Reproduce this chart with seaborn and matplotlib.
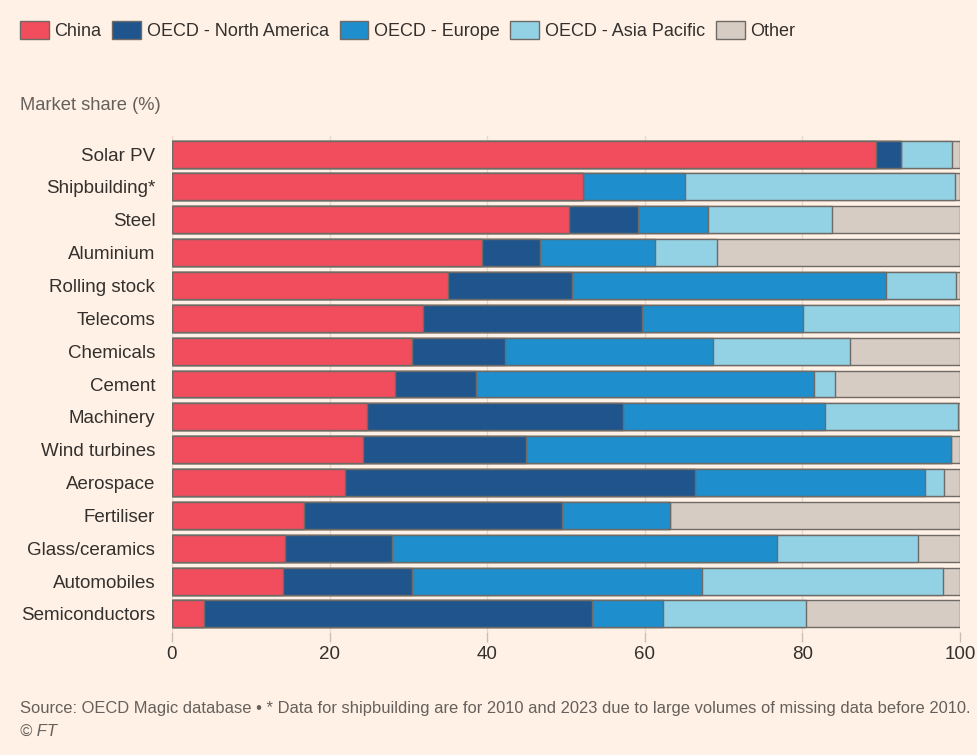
import matplotlib
matplotlib.use("Agg")
import matplotlib.pyplot as plt
import seaborn as sns
import numpy as np
import pandas as pd
from matplotlib.patches import Patch

# market share (%) by sector
industries = ["Solar PV", "Shipbuilding*", "Steel", "Aluminium", "Rolling stock",
              "Telecoms", "Chemicals", "Cement", "Machinery", "Wind turbines",
              "Aerospace", "Fertiliser", "Glass/ceramics", "Automobiles",
              "Semiconductors"]
china = [89.4, 52.2, 50.4, 39.4, 35.0, 31.8, 30.4, 28.3, 24.8, 24.2, 22.0, 16.7, 14.4, 14.1, 4.1]
north_america = [3.1, 0.0, 8.8, 7.3, 15.8, 27.8, 11.8, 10.3, 32.4, 20.7, 44.4, 32.8, 13.5, 16.4, 49.2]
europe = [0.0, 12.9, 8.8, 14.6, 39.8, 20.5, 26.4, 42.9, 25.7, 54.0, 29.1, 13.7, 48.9, 36.7, 9.0]
asia_pacific = [6.5, 34.3, 15.8, 7.9, 8.9, 19.9, 17.4, 2.6, 16.9, 0.0, 2.5, 0.0, 17.9, 30.6, 18.2]
other = [1.0, 0.6, 16.2, 30.8, 0.5, 0.0, 14.0, 15.9, 0.2, 1.1, 2.0, 36.8, 5.3, 2.2, 19.5]

series = ["China", "OECD - North America", "OECD - Europe", "OECD - Asia Pacific", "Other"]
colours = ["#f24d5c", "#1f558c", "#1e8ecd", "#93d1e5", "#d7ccc3"]

df = pd.DataFrame({"industry": industries, "China": china,
                   "OECD - North America": north_america, "OECD - Europe": europe,
                   "OECD - Asia Pacific": asia_pacific, "Other": other})
cum = df[series].cumsum(axis=1)

bg = "#fff1e5"
sns.set_theme(style="white")
plt.rcParams["font.family"] = ["Liberation Sans", "DejaVu Sans"]

fig = plt.figure(figsize=(9.78, 7.55), dpi=100, facecolor=bg)
ax = fig.add_axes([172 / 978, 1 - 632 / 755, 788 / 978, 496 / 755])
ax.set_facecolor(bg)

# stacked bars: draw cumulative totals from the back to the front
for name, col in reversed(list(zip(series, colours))):
    sns.barplot(x=cum[name], y=df["industry"], orient="h", color=col,
                edgecolor="#6e6a66", linewidth=1.0, width=0.82, ax=ax,
                saturation=1)

ax.set_xlim(0, 100)
ax.set_ylim(14.55, -0.55)
ax.set_xticks([0, 20, 40, 60, 80, 100])
ax.xaxis.grid(True, color="#e3d9cf", linewidth=1)
ax.set_axisbelow(True)
for s in ax.spines.values():
    s.set_visible(False)
ax.set_xlabel("")
ax.set_ylabel("")
ax.tick_params(axis="x", length=7, color="#c9beb3", width=1, labelsize=13.5,
               labelcolor="#33302e", pad=3, bottom=True)
ax.tick_params(axis="y", length=0, labelsize=13.5, labelcolor="#33302e", pad=12)

handles = [Patch(facecolor=c, edgecolor="#6e6a66", linewidth=1, label=n)
           for n, c in zip(series, colours)]
fig.legend(handles=handles, loc="upper left", bbox_to_anchor=(13 / 978, 1 - 14 / 755),
           ncol=5, frameon=False, fontsize=13, handlelength=1.6, handleheight=1.1,
           handletextpad=0.3, columnspacing=0.6, borderaxespad=0,
           labelcolor="#33302e")

fig.text(20 / 978, 1 - 105 / 755, "Market share (%)", fontsize=13.2, color="#66605c",
         va="center", ha="left")
fig.text(20 / 978, 1 - 709 / 755,
         "Source: OECD Magic database \u2022 * Data for shipbuilding are for 2010 and 2023 due to large volumes of missing data before 2010.",
         fontsize=11.9, color="#66605c", va="center", ha="left")
fig.text(20 / 978, 1 - 731 / 755, "\u00a9 FT", fontsize=11.9, color="#66605c",
         va="center", ha="left", style="italic")

fig.savefig("out.png", dpi=100, facecolor=bg)
